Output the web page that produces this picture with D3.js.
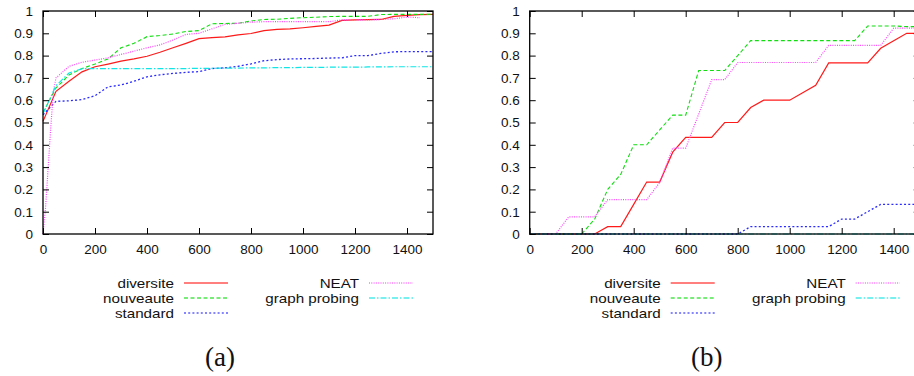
<!DOCTYPE html>
<html><head><meta charset="utf-8">
<script src="https://cdn.jsdelivr.net/npm/d3@7"></script>
<style>
body{margin:0;background:#fff;}
svg{display:block;}
.tick text{font-family:"Liberation Sans",Arial,sans-serif;font-size:13.5px;fill:#111;}
</style></head><body>
<svg id="c" width="914" height="376"></svg>
<script>
// ---------- data ----------
const xSteps = [0,50,100,150,200,250,300,350,400,450,500,550,600,650,700,750,800,850,900,950,1000,1050,1100,1150,1200,1250,1300,1350,1400,1450,1500];
const xTicks = [0,200,400,600,800,1000,1200,1400];
const yTicks = [0,0.1,0.2,0.3,0.4,0.5,0.6,0.7,0.8,0.9,1];
const yTickLabels = ["0","0.1","0.2","0.3","0.4","0.5","0.6","0.7","0.8","0.9","1"];
const seriesNames = ["diversite","nouveaute","standard","NEAT","graph probing"];
const panelLabels = ["(a)","(b)"];

// panel (a)
const aDiversite = [0.505,0.64,0.685,0.727,0.75,0.762,0.775,0.785,0.797,0.815,0.835,0.855,0.876,0.881,0.884,0.893,0.899,0.912,0.918,0.92,0.925,0.931,0.937,0.958,0.96,0.961,0.962,0.976,0.98,0.984,0.985];
const aNouveaute = [0.545,0.655,0.713,0.742,0.762,0.785,0.835,0.855,0.885,0.89,0.897,0.908,0.912,0.943,0.944,0.945,0.955,0.962,0.963,0.967,0.97,0.972,0.975,0.976,0.976,0.976,0.984,0.985,0.985,0.985,0.985];
const aStandard = [0.535,0.595,0.597,0.603,0.62,0.66,0.668,0.685,0.705,0.714,0.72,0.725,0.728,0.742,0.745,0.752,0.763,0.777,0.782,0.785,0.786,0.787,0.789,0.79,0.8,0.8,0.81,0.817,0.818,0.818,0.818];
const aNeatX = [0,10,20,30,40,50,100,150,200,250,300,350,400,450,500,550,600,650,700,750,800,850,900,950,1000,1050,1100,1150,1200,1250,1300,1350,1400,1450];
const aNeat = [0,0.12,0.3,0.48,0.64,0.70,0.752,0.77,0.78,0.79,0.805,0.82,0.835,0.848,0.87,0.895,0.9,0.92,0.94,0.945,0.95,0.952,0.952,0.952,0.952,0.952,0.952,0.96,0.96,0.96,0.962,0.965,0.973,0.97];
const aGraph = [0.54,0.665,0.722,0.741,0.742,0.742,0.742,0.742,0.742,0.742,0.742,0.742,0.743,0.743,0.744,0.744,0.745,0.745,0.746,0.746,0.747,0.747,0.748,0.748,0.748,0.749,0.749,0.75,0.75,0.75,0.75];

// panel (b)
const bDiversite = [0,0,0,0,0,0,0.033,0.033,0.133,0.233,0.233,0.367,0.433,0.433,0.433,0.5,0.5,0.567,0.6,0.6,0.6,0.633,0.667,0.767,0.767,0.767,0.767,0.833,0.867,0.9,0.9];
const bNouveaute = [0,0,0,0,0,0.067,0.2,0.267,0.4,0.4,0.467,0.533,0.533,0.733,0.733,0.733,0.8,0.867,0.867,0.867,0.867,0.867,0.867,0.867,0.867,0.867,0.933,0.933,0.933,0.93,0.93];
const bStandard = [0,0,0,0,0,0,0,0,0,0,0,0,0,0,0,0,0,0.033,0.033,0.033,0.033,0.033,0.033,0.033,0.067,0.067,0.1,0.133,0.133,0.133,0.133];
const bNeat = [0,0,0,0.077,0.077,0.077,0.154,0.154,0.154,0.154,0.231,0.385,0.385,0.538,0.692,0.692,0.769,0.769,0.769,0.769,0.769,0.769,0.769,0.846,0.846,0.846,0.846,0.846,0.923,0.923,0.923];
const bGraph = [0,0,0,0,0,0,0,0,0,0,0,0,0,0,0,0,0,0,0,0,0,0,0,0,0,0,0,0,0,0,0];

// ---------- styles ----------
const styles = [
  {color:"#ff1a1a", dash:null,        w:1.2},
  {color:"#11dd11", dash:"4,2.5",     w:1.1},
  {color:"#2a2aff", dash:"2,2.2",     w:1.3},
  {color:"#ff44ff", dash:"1,1.3",     w:1.2},
  {color:"#11e5e5", dash:"6,2,1.5,2", w:1.2}
];

const svg = d3.select("#c");

function panel(x0, x1, label, seriesList){
  const x = d3.scaleLinear().domain([0,1500]).range([x0,x1]);
  const y = d3.scaleLinear().domain([0,1]).range([234,11]);
  const g = svg.append("g");

  const line = d3.line().x(d=>x(d[0])).y(d=>y(d[1]));
  seriesList.forEach((s,i)=>{
    const pts = s.xs.map((xv,k)=>[xv,s.ys[k]]);
    g.append("path").attr("d",line(pts)).attr("fill","none")
      .attr("stroke",styles[i].color).attr("stroke-width",styles[i].w)
      .attr("stroke-dasharray",styles[i].dash);
  });

  // frame
  g.append("rect").attr("x",x(0)).attr("y",y(1)).attr("width",x(1500)-x(0)).attr("height",y(0)-y(1))
    .attr("fill","none").attr("stroke","#000").attr("stroke-width",1.3);

  const ax = (gen, tr)=>{
    const a = g.append("g").attr("transform",tr).call(gen);
    a.select(".domain").remove();
    a.selectAll(".tick line").attr("stroke","#000").attr("stroke-width",1);
    return a;
  };
  ax(d3.axisBottom(x).tickValues(xTicks).tickSize(-6).tickPadding(10).tickFormat(d3.format("d")), `translate(0,${y(0)})`);
  ax(d3.axisTop(x).tickValues(xTicks).tickSize(-6).tickFormat(""), `translate(0,${y(1)})`);
  ax(d3.axisLeft(y).tickValues(yTicks).tickSize(-6).tickPadding(10).tickFormat((d,i)=>yTickLabels[i]), `translate(${x(0)},0)`);
  ax(d3.axisRight(y).tickValues(yTicks).tickSize(-6).tickFormat(""), `translate(${x(1500)},0)`);
  g.selectAll(".tick text").attr("fill","#111");

  // legend
  const cols = [{tx:x0+131, sx0:x0+141, sx1:x0+185},{tx:x0+316, sx0:x0+326, sx1:x0+370}];
  const slots = [[0,0],[0,1],[0,2],[1,0],[1,1]];
  seriesNames.forEach((n,i)=>{
    const c = cols[slots[i][0]], ry = 283 + slots[i][1]*15;
    g.append("text").attr("transform",`translate(${c.tx},${ry+4.5}) scale(1.17,1)`)
      .attr("text-anchor","end").attr("font-family","Liberation Sans, Arial, sans-serif")
      .attr("font-size",13).attr("fill","#111").text(n);
    g.append("line").attr("x1",c.sx0).attr("x2",c.sx1).attr("y1",ry).attr("y2",ry)
      .attr("stroke",styles[i].color).attr("stroke-width",styles[i].w+0.3)
      .attr("stroke-dasharray",styles[i].dash).attr("opacity",0.75);
  });

  g.append("text").attr("x",x0+177).attr("y",366).attr("text-anchor","middle")
    .attr("font-family","Liberation Serif, Times New Roman, serif").attr("font-size",27)
    .attr("fill","#111").text(label);
}

panel(43, 433, panelLabels[0], [
  {xs:xSteps, ys:aDiversite},
  {xs:xSteps, ys:aNouveaute},
  {xs:xSteps, ys:aStandard},
  {xs:aNeatX, ys:aNeat},
  {xs:xSteps, ys:aGraph}
]);
panel(529.7, 919.7, panelLabels[1], [
  {xs:xSteps, ys:bDiversite},
  {xs:xSteps, ys:bNouveaute},
  {xs:xSteps, ys:bStandard},
  {xs:xSteps, ys:bNeat},
  {xs:xSteps, ys:bGraph}
]);
</script>
</body></html>
